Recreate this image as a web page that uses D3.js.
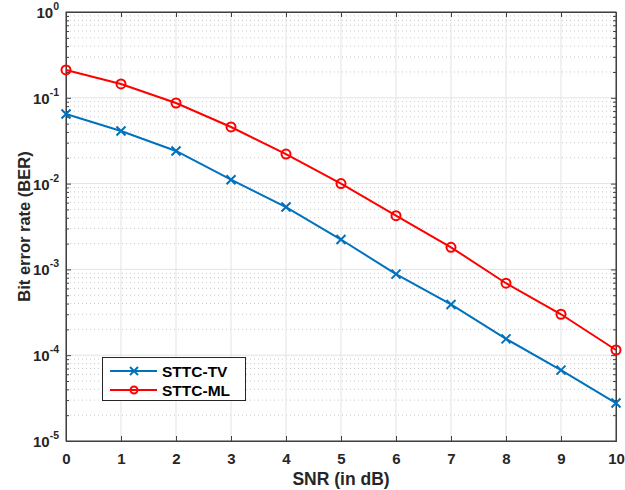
<!DOCTYPE html>
<html>
<head>
<meta charset="utf-8">
<script src="https://cdn.jsdelivr.net/npm/d3@7"></script>
<style>
  body { margin: 0; background: #fff; }
  svg { font-family: "Liberation Sans", Arial, sans-serif; font-weight: bold; }
</style>
</head>
<body>
<svg id="chart"></svg>
<script>
// data
const snr = [0, 1, 2, 3, 4, 5, 6, 7, 8, 9, 10];
const berTV = [0.0647, 0.041, 0.024, 0.0111, 0.00533, 0.00223, 0.00088, 0.00039, 0.000155, 0.000067, 0.0000277];
const berML = [0.211, 0.145, 0.087, 0.0457, 0.0221, 0.0100, 0.00423, 0.00181, 0.00069, 0.0003, 0.000115];
const yDecades = [0, -1, -2, -3, -4, -5];
const seriesNames = ['STTC-TV', 'STTC-ML'];

const width = 625, height = 490;
const margin = { top: 12, right: 9, bottom: 49, left: 66 };

const svg = d3.select('#chart').attr('width', width).attr('height', height);

const x = d3.scaleLinear().domain([0, 10]).range([margin.left, width - margin.right]);
const y = d3.scaleLog().domain([1e-5, 1]).range([height - margin.bottom, margin.top]);

const x0 = margin.left, x1 = width - margin.right;
const y0 = height - margin.bottom, y1 = margin.top;

// minor grid (dotted)
const minorVals = [];
yDecades.slice(1).forEach(d => {
  for (let m = 2; m <= 9; m++) minorVals.push(m * Math.pow(10, d));
});
svg.append('g').selectAll('line').data(minorVals).enter().append('line')
  .attr('x1', x0).attr('x2', x1)
  .attr('y1', d => y(d)).attr('y2', d => y(d))
  .attr('stroke', '#c8c8c8').attr('stroke-width', 1)
  .attr('stroke-dasharray', '1,3');

// major grid
svg.append('g').selectAll('line').data(snr).enter().append('line')
  .attr('x1', d => x(d)).attr('x2', d => x(d))
  .attr('y1', y0).attr('y2', y1)
  .attr('stroke', '#e3e3e3').attr('stroke-width', 1);
svg.append('g').selectAll('line').data(yDecades).enter().append('line')
  .attr('x1', x0).attr('x2', x1)
  .attr('y1', d => y(Math.pow(10, d))).attr('y2', d => y(Math.pow(10, d)))
  .attr('stroke', '#e3e3e3').attr('stroke-width', 1);

// axes
const axisColor = '#404040';
const xAxis = svg.append('g').attr('transform', `translate(0,${y0})`)
  .call(d3.axisBottom(x).tickValues(snr).tickSize(-5).tickPadding(12).tickFormat(d3.format('d')));
svg.append('g').attr('transform', `translate(0,${y1})`)
  .call(d3.axisTop(x).tickValues(snr).tickSize(-5).tickFormat(''));
svg.append('g').attr('transform', `translate(${x0},0)`)
  .call(d3.axisLeft(y).tickValues(yDecades.map(d => Math.pow(10, d))).tickSize(-5).tickFormat(''));
svg.append('g').attr('transform', `translate(${x1},0)`)
  .call(d3.axisRight(y).tickValues(yDecades.map(d => Math.pow(10, d))).tickSize(-5).tickFormat(''));
// minor ticks
svg.append('g').attr('transform', `translate(${x0},0)`)
  .call(d3.axisLeft(y).tickValues(minorVals).tickSize(-3).tickFormat(''))
  .select('.domain').remove();
svg.append('g').attr('transform', `translate(${x1},0)`)
  .call(d3.axisRight(y).tickValues(minorVals).tickSize(-3).tickFormat(''))
  .select('.domain').remove();

svg.selectAll('.domain').attr('stroke', axisColor).attr('stroke-width', 1);
svg.selectAll('.tick line').attr('stroke', axisColor);
xAxis.selectAll('text').attr('font-size', 15).attr('font-weight', 'bold')
  .attr('font-family', '"Liberation Sans", Arial, sans-serif').attr('fill', '#262626');

// y tick labels 10^n
const yLab = svg.append('g');
yDecades.forEach(d => {
  const t = yLab.append('text')
    .attr('x', x0 - 7).attr('y', y(Math.pow(10, d)) + 6)
    .attr('text-anchor', 'end').attr('fill', '#262626').attr('font-size', 15);
  t.append('tspan').text('10');
  t.append('tspan').attr('dy', -8).attr('font-size', 10.5).text(d);
});

// axis titles
svg.append('text')
  .attr('x', (x0 + x1) / 2).attr('y', 485)
  .attr('text-anchor', 'middle').attr('font-size', 17.5).attr('fill', '#262626')
  .text('SNR (in dB)');
svg.append('text')
  .attr('transform', `translate(30,${(y0 + y1) / 2}) rotate(-90)`)
  .attr('text-anchor', 'middle').attr('font-size', 16.5).attr('fill', '#262626')
  .text('Bit error rate (BER)');

// border box
svg.append('rect').attr('x', x0).attr('y', y1).attr('width', x1 - x0).attr('height', y0 - y1)
  .attr('fill', 'none').attr('stroke', axisColor).attr('stroke-width', 1);

const line = d3.line().x((d, i) => x(snr[i])).y(d => y(d));
const colors = ['#0072BD', '#FF0000'];

function drawCross(g, cx, cy, s, color) {
  g.append('path')
    .attr('d', `M${cx - s},${cy - s}L${cx + s},${cy + s}M${cx - s},${cy + s}L${cx + s},${cy - s}`)
    .attr('stroke', color).attr('stroke-width', 2).attr('fill', 'none');
}

// STTC-TV
svg.append('path').datum(berTV).attr('d', line)
  .attr('fill', 'none').attr('stroke', colors[0]).attr('stroke-width', 2);
const gTV = svg.append('g');
berTV.forEach((d, i) => drawCross(gTV, x(snr[i]), y(d), 4.5, colors[0]));

// STTC-ML
svg.append('path').datum(berML).attr('d', line)
  .attr('fill', 'none').attr('stroke', colors[1]).attr('stroke-width', 2);
svg.append('g').selectAll('circle').data(berML).enter().append('circle')
  .attr('cx', (d, i) => x(snr[i])).attr('cy', d => y(d)).attr('r', 4.5)
  .attr('fill', 'none').attr('stroke', colors[1]).attr('stroke-width', 2);

// legend
const lg = svg.append('g');
lg.append('rect').attr('x', 102.5).attr('y', 357.5).attr('width', 143).attr('height', 43)
  .attr('fill', '#fff').attr('stroke', '#262626').attr('stroke-width', 1);
seriesNames.forEach((name, i) => {
  const ly = 371 + i * 19;
  lg.append('line').attr('x1', 110).attr('x2', 157).attr('y1', ly).attr('y2', ly)
    .attr('stroke', colors[i]).attr('stroke-width', 2);
  if (i === 0) drawCross(lg, 134, ly, 4, colors[0]);
  else lg.append('circle').attr('cx', 134).attr('cy', ly).attr('r', 3.5)
    .attr('fill', 'none').attr('stroke', colors[1]).attr('stroke-width', 2);
  lg.append('text').attr('x', 162).attr('y', ly + 5.5)
    .attr('font-size', 15.5).attr('fill', '#000').text(name);
});
</script>
</body>
</html>
